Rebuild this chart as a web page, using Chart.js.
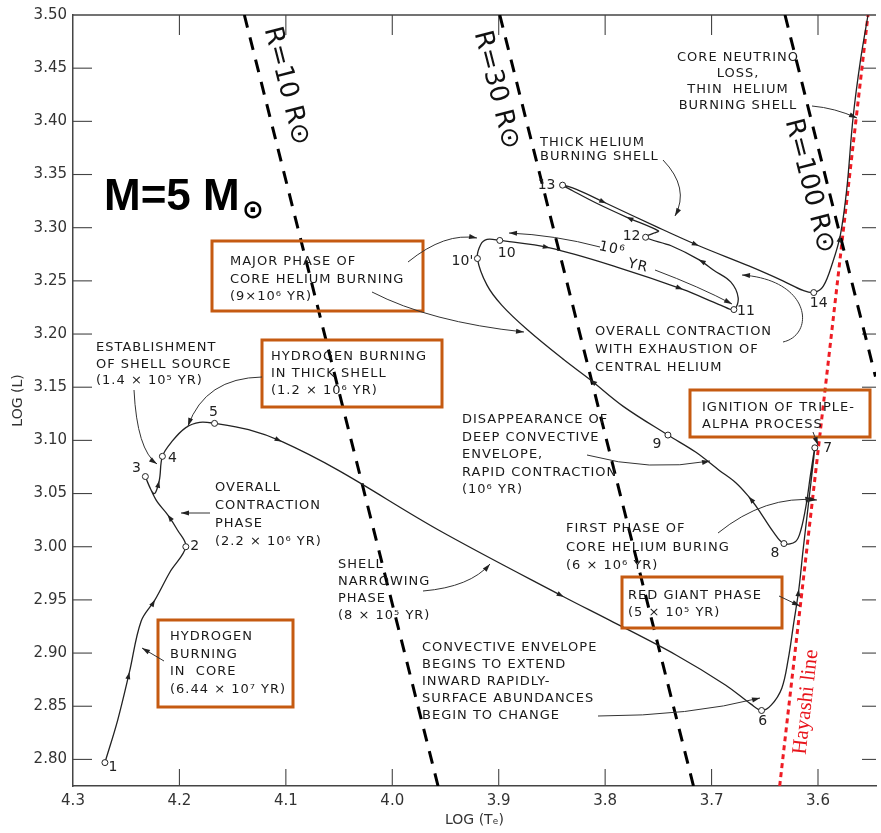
<!DOCTYPE html>
<html><head><meta charset="utf-8">
<script src="https://cdn.jsdelivr.net/npm/chart.js@4.4.1/dist/chart.umd.min.js"></script>
<style>html,body{margin:0;padding:0;background:#fff;overflow:hidden}canvas{display:block}</style>
</head><body>
<canvas id="c" width="881" height="833"></canvas>
<script>
// ---------------- DATA ----------------
const trackLogTe = [4.270,4.258,4.247,4.236,4.223,4.209,4.194,4.202,4.211,4.222,
  4.232,4.224,4.219,4.216,4.207,4.194,4.181,4.167,4.135,4.104,
  4.051,3.957,3.839,3.796,3.733,3.687,3.663,3.653,3.644,3.634,
  3.628,3.623,3.618,3.614,3.609,3.603,3.607,3.611,3.616,3.621,
  3.632,3.642,3.656,3.665,3.677,3.693,3.715,3.741,3.783,3.814,
  3.839,3.873,3.897,3.911,3.920,3.917,3.911,3.899,3.852,3.789,
  3.727,3.691,3.679,3.675,3.682,3.698,3.712,3.738,3.762,3.754,
  3.750,3.780,3.808,3.831,3.840,3.827,3.799,3.752,3.712,3.665,
  3.633,3.614,3.604,3.595,3.586,3.579,3.573,3.567,3.560,3.553];
const trackLogL = [2.797,2.837,2.882,2.930,2.950,2.976,3.000,3.016,3.030,3.044,
  3.066,3.050,3.062,3.085,3.099,3.112,3.117,3.116,3.110,3.099,
  3.072,3.016,2.953,2.931,2.898,2.870,2.852,2.846,2.851,2.867,
  2.894,2.927,2.960,2.997,3.040,3.093,3.068,3.040,3.016,3.005,
  3.003,3.014,3.035,3.047,3.060,3.072,3.089,3.105,3.132,3.157,
  3.176,3.204,3.227,3.246,3.271,3.284,3.289,3.288,3.281,3.263,
  3.242,3.227,3.223,3.234,3.249,3.260,3.270,3.283,3.291,3.295,
  3.297,3.310,3.323,3.335,3.340,3.336,3.323,3.301,3.283,3.264,
  3.250,3.241,3.239,3.245,3.268,3.293,3.336,3.404,3.458,3.500];
// numbered evolutionary points (index in track -> label)
const stageIndex = [0,6,10,13,17,27,35,40,47,54,57,62,68,74,82];
const stageLabel = ['1','2','3','4','5','6','7','8','9',"10'",'10','11','12','13','14'];
// track indices carrying a direction arrow
const directionArrowIndex = [2,4,8,12,19,22,32,37,43,49,58,60,66,71,76,78,85];

const r10LogTe = [4.139, 3.957];  const r10LogL = [3.50, 2.775];
const r30LogTe = [3.899, 3.717];  const r30LogL = [3.50, 2.775];
const r100LogTe = [3.631, 3.546]; const r100LogL = [3.50, 3.160];
const hayashiLogTe = [3.636, 3.553]; const hayashiLogL = [2.775, 3.50];

const xTickValues = [4.3,4.2,4.1,4.0,3.9,3.8,3.7,3.6];
const yTickValues = [2.80,2.85,2.90,2.95,3.00,3.05,3.10,3.15,3.20,3.25,3.30,3.35,3.40,3.45,3.50];

// ---------------- LAYOUT / STYLE ----------------
const stageLabelOffset = {'1':[8,5],'2':[9,0],'3':[-9,-8],'4':[10,2],'5':[-1,-11],'6':[1,11],
  '7':[13,1],'8':[-9,10],'9':[-11,9],"10'":[-15,3],'10':[7,13],'11':[12,2],'12':[-14,-1],'13':[-16,0],'14':[5,11]};
const boxColor = '#c55a11';
const annotationBoxes = [[212,241,423,311],[262,340,442,407],[158,620,293,707],[690,390,870,437],[622,577,782,628]];
const annotationTexts = [
  {lines:['CORE NEUTRINO','LOSS,','THIN  HELIUM','BURNING SHELL'], x:738, y:58, lh:16, align:'center'},
  {lines:['THICK HELIUM','BURNING SHELL'], x:540, y:143, lh:14},
  {lines:['MAJOR PHASE OF','CORE HELIUM BURNING','(9×10⁶ YR)'], x:230, y:262, lh:17.5},
  {lines:['ESTABLISHMENT','OF SHELL SOURCE','(1.4 × 10⁵ YR)'], x:96, y:348, lh:16.5},
  {lines:['HYDROGEN BURNING','IN THICK SHELL','(1.2 × 10⁶ YR)'], x:271, y:357, lh:17},
  {lines:['OVERALL','CONTRACTION','PHASE','(2.2 × 10⁶ YR)'], x:215, y:488, lh:18},
  {lines:['HYDROGEN','BURNING','IN  CORE','(6.44 × 10⁷ YR)'], x:170, y:637, lh:17.5},
  {lines:['SHELL','NARROWING','PHASE','(8 × 10⁵ YR)'], x:338, y:565, lh:17},
  {lines:['DISAPPEARANCE OF','DEEP CONVECTIVE','ENVELOPE,','RAPID CONTRACTION','(10⁶ YR)'], x:462, y:420, lh:17.5},
  {lines:['OVERALL CONTRACTION','WITH EXHAUSTION OF','CENTRAL HELIUM'], x:595, y:332, lh:18},
  {lines:['IGNITION OF TRIPLE-','ALPHA PROCESS'], x:702, y:408, lh:16.5},
  {lines:['FIRST PHASE OF','CORE HELIUM BURING','(6 × 10⁶ YR)'], x:566, y:529, lh:18.5},
  {lines:['RED GIANT PHASE','(5 × 10⁵ YR)'], x:628, y:596, lh:17},
  {lines:['CONVECTIVE ENVELOPE','BEGINS TO EXTEND','INWARD RAPIDLY-','SURFACE ABUNDANCES','BEGIN TO CHANGE'], x:422, y:648, lh:17}
];
const annotationArrows = [
  [812,106, 835,108, 857,118],
  [663,160, 690,188, 675,216],
  [600,247, 555,235, 509,233],
  [655,270, 700,287, 732,304],
  [408,262, 445,232, 477,238],
  [372,292, 430,322, 524,332],
  [134,390, 137,450, 157,464],
  [262,377, 205,378, 188,426],
  [210,513, 181,513],
  [164,661, 142,648],
  [423,591, 470,587, 490,564],
  [587,455, 650,472, 710,461],
  [783,342, 815,335, 812,280, 742,275],
  [813,432, 818,445],
  [718,533, 765,495, 817,500],
  [779,596, 800,606],
  [598,716, 690,716, 760,698]
];

Chart.defaults.font.family = "'DejaVu Sans', sans-serif";

function arrowHead(ctx, x, y, ang, len, wid) {
  ctx.save(); ctx.translate(x, y); ctx.rotate(ang);
  ctx.beginPath(); ctx.moveTo(0,0); ctx.lineTo(-len, -wid/2); ctx.lineTo(-len, wid/2); ctx.closePath(); ctx.fill();
  ctx.restore();
}

const decor = {
  id: 'decor',
  beforeDatasetsDraw(chart) {
    const ctx = chart.ctx, xs = chart.scales.x, ys = chart.scales.y, ca = chart.chartArea;
    ctx.save();
    ctx.strokeStyle = '#444'; ctx.lineWidth = 1.3;
    ctx.beginPath(); ctx.moveTo(ca.left, ca.top); ctx.lineTo(ca.right, ca.top); ctx.stroke();
    ctx.lineWidth = 1.1;
    xTickValues.forEach(v => {
      const px = xs.getPixelForValue(v);
      if (v === 4.3) return;
      ctx.beginPath(); ctx.moveTo(px, ca.bottom); ctx.lineTo(px, ca.bottom - 17); ctx.stroke();
      ctx.beginPath(); ctx.moveTo(px, ca.top); ctx.lineTo(px, ca.top + 20); ctx.stroke();
    });
    yTickValues.forEach(v => {
      const py = ys.getPixelForValue(v);
      if (v === 3.50) return;
      ctx.beginPath(); ctx.moveTo(ca.left, py); ctx.lineTo(ca.left + 19, py); ctx.stroke();
      ctx.beginPath(); ctx.moveTo(ca.right, py); ctx.lineTo(ca.right - 14, py); ctx.stroke();
    });
    ctx.restore();
  },
  afterDatasetsDraw(chart) {
    const ctx = chart.ctx;
    ctx.save();
    // track direction arrows
    const meta = chart.getDatasetMeta(0);
    ctx.fillStyle = '#222';
    directionArrowIndex.forEach(i => {
      const a = meta.data[i-1], b = meta.data[i+1], p = meta.data[i];
      arrowHead(ctx, p.x, p.y, Math.atan2(b.y - a.y, b.x - a.x) , 7, 5);
    });
    // stage labels
    ctx.font = "14px 'DejaVu Sans'"; ctx.textAlign = 'center'; ctx.textBaseline = 'middle';
    stageIndex.forEach((idx, k) => {
      const p = meta.data[idx]; const o = stageLabelOffset[stageLabel[k]];
      ctx.fillText(stageLabel[k], p.x + o[0], p.y + o[1]);
    });
    // boxes
    ctx.strokeStyle = boxColor; ctx.lineWidth = 3;
    annotationBoxes.forEach(b => ctx.strokeRect(b[0], b[1], b[2]-b[0], b[3]-b[1]));
    // texts
    ctx.fillStyle = '#1a1a1a'; ctx.font = "13px 'DejaVu Sans'"; ctx.letterSpacing = '1px';
    annotationTexts.forEach(t => {
      ctx.textAlign = t.align || 'left';
      t.lines.forEach((l, j) => ctx.fillText(l, t.x, t.y + j * t.lh));
    });
    // 10^6 YR tilted
    [['10⁶', 612, 249], ['YR', 638, 266]].forEach(s => {
      ctx.save(); ctx.translate(s[1], s[2]); ctx.rotate(0.22); ctx.textAlign = 'center';
      ctx.font = "14px 'DejaVu Sans'"; ctx.fillText(s[0], 0, 0); ctx.restore();
    });
    ctx.letterSpacing = '0px';
    // arrows
    ctx.strokeStyle = '#333'; ctx.fillStyle = '#222'; ctx.lineWidth = 1;
    annotationArrows.forEach(a => {
      ctx.beginPath(); ctx.moveTo(a[0], a[1]);
      let px, py;
      if (a.length === 4) { ctx.lineTo(a[2], a[3]); px = a[0]; py = a[1]; }
      else if (a.length === 6) { ctx.quadraticCurveTo(a[2], a[3], a[4], a[5]); px = a[2]; py = a[3]; }
      else { ctx.bezierCurveTo(a[2], a[3], a[4], a[5], a[6], a[7]); px = a[4]; py = a[5]; }
      ctx.stroke();
      const ex = a[a.length-2], ey = a[a.length-1];
      arrowHead(ctx, ex, ey, Math.atan2(ey - py, ex - px), 8, 5);
    });
    // radius labels
    ctx.fillStyle = '#111'; ctx.textAlign = 'center'; ctx.textBaseline = 'middle';
    ctx.font = "26px 'DejaVu Sans'";
    [['R=10 R⊙', 286, 86], ['R=30 R⊙', 496, 90], ['R=100 R⊙', 809, 186]].forEach(s => {
      ctx.save(); ctx.translate(s[1], s[2]); ctx.rotate(1.32); ctx.fillText(s[0], 0, 0); ctx.restore();
    });
    // M=5 Msun
    ctx.textAlign = 'left'; ctx.textBaseline = 'alphabetic';
    ctx.font = "bold 44px 'Liberation Sans'"; ctx.fillStyle = '#000';
    ctx.fillText('M=5 M', 104, 210);
    ctx.font = "bold 26px 'DejaVu Sans'"; ctx.textAlign = 'center'; ctx.textBaseline = 'middle';
    ctx.fillText('⊙', 253, 211);
    // Hayashi label
    ctx.save(); ctx.translate(806, 702); ctx.rotate(-1.455);
    ctx.fillStyle = '#e8141b'; ctx.font = "21px 'Liberation Serif'";
    ctx.fillText('Hayashi line', 0, 0); ctx.restore();
    ctx.restore();
  }
};

const toXY = (xs, ys) => xs.map((v, i) => ({x: v, y: ys[i]}));
const isStage = i => stageIndex.indexOf(i) >= 0;

new Chart(document.getElementById('c'), {
  type: 'scatter',
  data: { datasets: [
    { label: 'track', data: toXY(trackLogTe, trackLogL), showLine: true, tension: 0.35,
      borderColor: '#222', borderWidth: 1.3, backgroundColor: '#fff',
      pointRadius: c => isStage(c.dataIndex) ? 3 : 0, pointBorderWidth: 1, pointBorderColor: '#222', pointBackgroundColor: '#fff' },
    { label: 'R=10', data: toXY(r10LogTe, r10LogL), showLine: true, borderColor: '#000', borderWidth: 3, borderDash: [13, 10], pointRadius: 0 },
    { label: 'R=30', data: toXY(r30LogTe, r30LogL), showLine: true, borderColor: '#000', borderWidth: 3, borderDash: [13, 10], pointRadius: 0 },
    { label: 'R=100', data: toXY(r100LogTe, r100LogL), showLine: true, borderColor: '#000', borderWidth: 3, borderDash: [13, 10], pointRadius: 0 },
    { label: 'Hayashi', data: toXY(hayashiLogTe, hayashiLogL), showLine: true, borderColor: '#ee1c24', borderWidth: 3, borderDash: [5, 4], pointRadius: 0 }
  ]},
  options: {
    responsive: false, animation: false, devicePixelRatio: 1,
    layout: { padding: { top: 15, right: 0, left: 0, bottom: 0 } },
    plugins: { legend: { display: false }, tooltip: { enabled: false } },
    scales: {
      x: { type: 'linear', reverse: true, min: 3.5455, max: 4.3,
        afterFit: s => { s.height = 47; },
        afterBuildTicks: s => { s.ticks = xTickValues.map(v => ({value: v})); },
        grid: { drawOnChartArea: false, drawTicks: false },
        border: { display: true, color: '#444', width: 1.5 },
        ticks: { padding: 6, color: '#333', font: { size: 15 }, callback: v => Number(v).toFixed(1) },
        title: { display: true, text: 'LOG (Tₑ)', color: '#333', font: { size: 14 }, padding: { top: 2, bottom: 4 } } },
      y: { type: 'linear', min: 2.775, max: 3.50,
        afterFit: s => { s.width = 73; },
        afterBuildTicks: s => { s.ticks = yTickValues.map(v => ({value: v})); },
        grid: { drawOnChartArea: false, drawTicks: false },
        border: { display: true, color: '#444', width: 1.5 },
        ticks: { padding: 6, color: '#333', font: { size: 15 }, callback: v => Number(v).toFixed(2) },
        title: { display: true, text: 'LOG (L)', color: '#333', font: { size: 14 }, padding: { top: 10, bottom: 4 } } }
    }
  },
  plugins: [decor]
});
</script>
</body></html>
